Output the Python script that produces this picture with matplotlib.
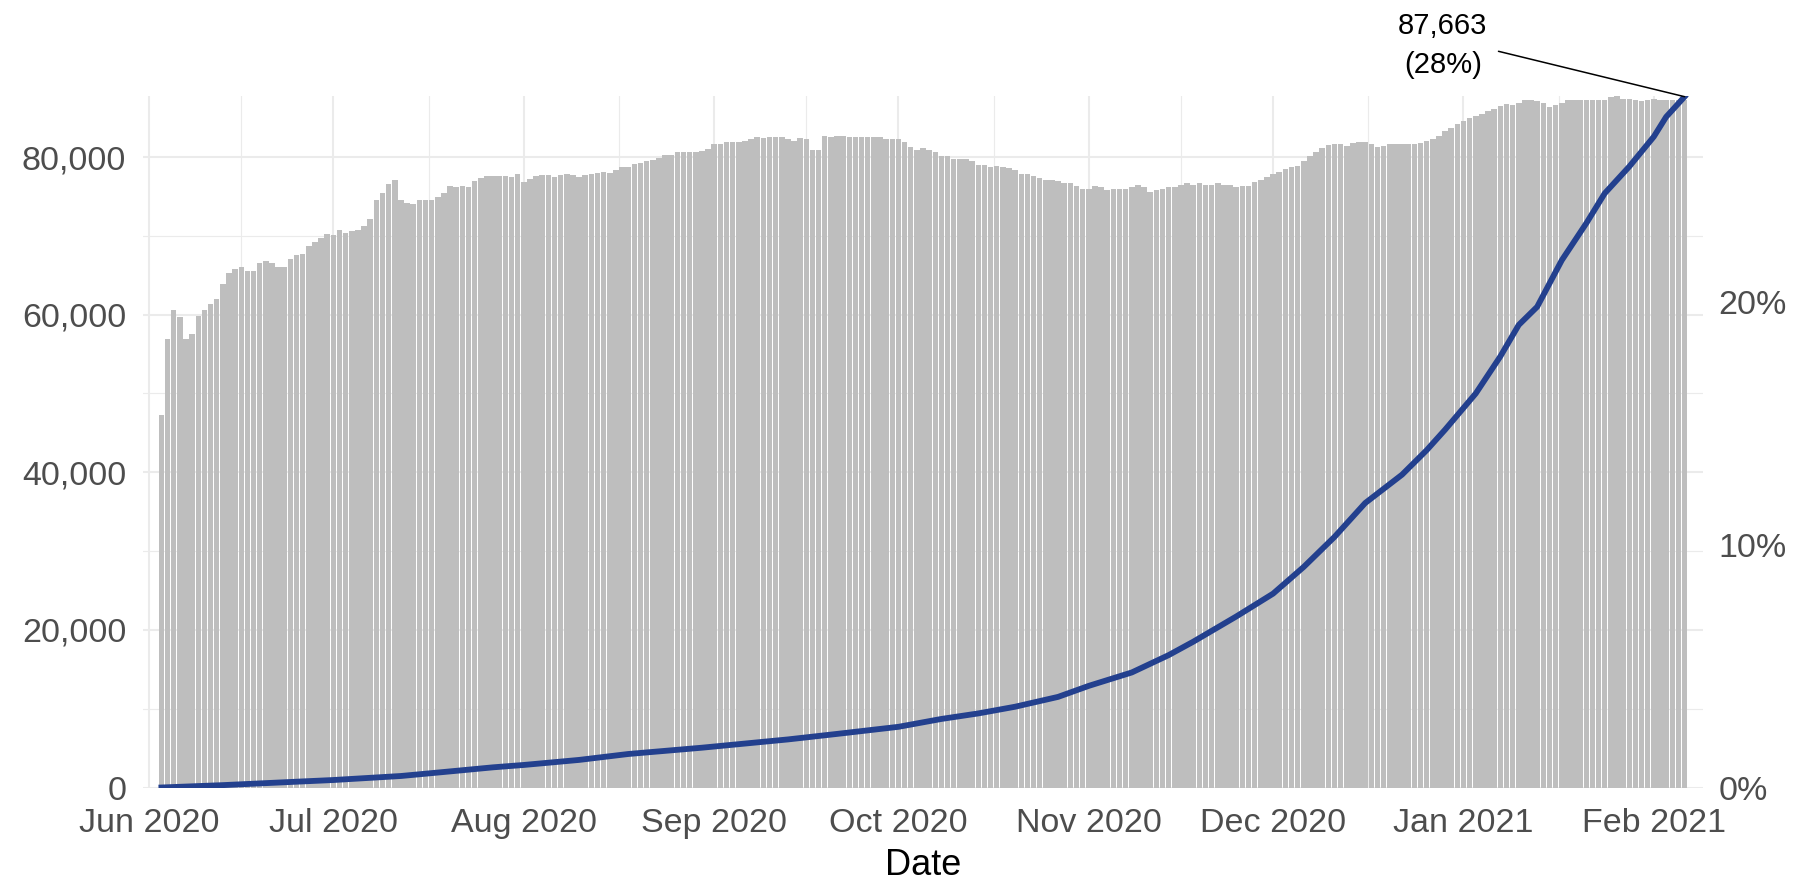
import numpy as np
import pandas as pd
import matplotlib
matplotlib.use('Agg')
import matplotlib.pyplot as plt
import matplotlib.dates as mdates
from matplotlib.ticker import FuncFormatter

plt.rcParams['font.family'] = ['Liberation Sans', 'DejaVu Sans']

# daily bar heights in thousands, one per day from 3 Jun 2020
daily_k = [
    47.3, 56.9, 60.6, 59.7, 56.9, 57.6, 59.8, 60.6, 61.3, 62.0,
    63.9, 65.3, 65.8, 66.0, 65.6, 65.6, 66.6, 66.8, 66.5, 66.1,
    66.1, 67.1, 67.6, 67.7, 68.7, 69.2, 69.7, 70.2, 70.1, 70.7,
    70.4, 70.6, 70.7, 71.3, 72.2, 74.5, 75.5, 76.6, 77.1, 74.5,
    74.2, 74.0, 74.5, 74.5, 74.6, 74.9, 75.5, 76.3, 76.2, 76.3,
    76.2, 77.0, 77.3, 77.6, 77.6, 77.6, 77.6, 77.5, 77.8, 76.8,
    77.2, 77.6, 77.7, 77.7, 77.5, 77.7, 77.8, 77.7, 77.5, 77.7,
    77.8, 78.0, 78.1, 78.0, 78.3, 78.8, 78.8, 79.1, 79.3, 79.5,
    79.6, 79.9, 80.2, 80.3, 80.6, 80.6, 80.6, 80.6, 80.8, 81.0,
    81.6, 81.6, 81.9, 81.9, 81.9, 82.1, 82.3, 82.6, 82.4, 82.6,
    82.6, 82.6, 82.3, 82.1, 82.4, 82.3, 80.9, 80.9, 82.7, 82.6,
    82.7, 82.7, 82.5, 82.5, 82.5, 82.5, 82.5, 82.5, 82.3, 82.3,
    82.3, 81.9, 81.3, 80.9, 81.1, 80.9, 80.6, 80.1, 80.1, 79.8,
    79.8, 79.8, 79.5, 79.0, 79.0, 78.8, 78.9, 78.8, 78.6, 78.4,
    77.8, 77.8, 77.6, 77.3, 77.1, 77.1, 77.0, 76.7, 76.7, 76.3,
    76.0, 76.0, 76.3, 76.2, 75.8, 76.0, 75.9, 76.0, 76.2, 76.5,
    76.2, 75.6, 75.8, 76.0, 76.2, 76.2, 76.5, 76.7, 76.5, 76.7,
    76.5, 76.5, 76.7, 76.4, 76.5, 76.2, 76.3, 76.3, 76.8, 77.1,
    77.5, 77.8, 78.1, 78.5, 78.8, 78.9, 79.5, 80.1, 80.6, 81.1,
    81.5, 81.6, 81.6, 81.4, 81.8, 81.9, 81.9, 81.7, 81.3, 81.4,
    81.6, 81.6, 81.6, 81.6, 81.7, 81.8, 82.0, 82.3, 82.7, 83.3,
    83.7, 84.2, 84.6, 84.9, 85.2, 85.5, 85.8, 86.1, 86.5, 86.7,
    86.6, 86.9, 87.2, 87.2, 87.1, 86.8, 86.4, 86.6, 86.8, 87.2,
    87.2, 87.2, 87.2, 87.2, 87.2, 87.3, 87.6, 87.7, 87.4, 87.4,
    87.3, 87.1, 87.2, 87.4, 87.3, 87.3, 87.3, 87.3, 87.3,
]
bar_dates = pd.date_range('2020-06-03', periods=len(daily_k), freq='D')
bar_values = np.array(daily_k) * 1000

line_dates = pd.to_datetime([
    '2020-06-03', '2020-06-13', '2020-06-24', '2020-07-01', '2020-07-12',
    '2020-07-19', '2020-07-27', '2020-08-01', '2020-08-10', '2020-08-18',
    '2020-08-30', '2020-09-13', '2020-09-21', '2020-10-01', '2020-10-08',
    '2020-10-14', '2020-10-20', '2020-10-27', '2020-11-01', '2020-11-08',
    '2020-11-14', '2020-11-18', '2020-11-25', '2020-12-01', '2020-12-06',
    '2020-12-11', '2020-12-16', '2020-12-22', '2020-12-26', '2020-12-29',
    '2021-01-03', '2021-01-07', '2021-01-10', '2021-01-13', '2021-01-17',
    '2021-01-21', '2021-01-24', '2021-01-28', '2021-02-01', '2021-02-03',
    '2021-02-06',
])
line_values = [
    0, 300, 700, 950, 1460,
    1970, 2560, 2860, 3500, 4250,
    5050, 6100, 6800, 7700, 8700,
    9400, 10250, 11500, 12900, 14600,
    16800, 18500, 21700, 24600, 28000,
    31800, 36100, 39700, 42800, 45400,
    50000, 54700, 58700, 61000, 66900,
    71600, 75400, 78800, 82600, 85100,
    87663,
]

population = 308000
month_starts = pd.date_range('2020-06-01', '2021-02-01', freq='MS')

W, H = 1807, 882
fig = plt.figure(figsize=(W / 100, H / 100), dpi=100)
ax = fig.add_axes([143 / W, 1 - 787.5 / H, (1703 - 143) / W, (787.5 - 96) / H])

ax.bar(bar_dates, bar_values, width=0.9, color='#bebebe', linewidth=0)
ax.plot(line_dates, line_values, color='#23408e', lw=4.2)

x0 = mdates.date2num(pd.Timestamp('2020-06-01'))
ax.set_xlim(x0 - 1, x0 + 253)
ax.set_ylim(0, 87750)

# gridlines like theme_minimal
ax.set_axisbelow(True)
ax.set_yticks([0, 20000, 40000, 60000, 80000])
ax.set_yticks([10000, 30000, 50000, 70000], minor=True)
ax.set_xticks(month_starts)
mids = [a + (b - a) / 2 for a, b in zip(month_starts[:-1], month_starts[1:])]
ax.set_xticks(mids, minor=True)
ax.grid(which='major', color='#ebebeb', lw=1.5)
ax.grid(which='minor', color='#ebebeb', lw=0.8)

ax.xaxis.set_major_formatter(mdates.DateFormatter('%b %Y'))
ax.yaxis.set_major_formatter(FuncFormatter(lambda v, p: f'{v:,.0f}'))
ax.tick_params(which='both', length=0, labelsize=24.5, labelcolor='#4d4d4d')
ax.tick_params(axis='x', pad=15)
ax.tick_params(axis='y', pad=12)
for s in ax.spines.values():
    s.set_visible(False)

sec = ax.secondary_yaxis('right', functions=(lambda v: v / population, lambda p: p * population))
sec.set_yticks([0, 0.1, 0.2])
sec.yaxis.set_major_formatter(FuncFormatter(lambda p, _: f'{p:.0%}'))
sec.tick_params(length=0, pad=11, labelsize=24.5, labelcolor='#4d4d4d')
for s in sec.spines.values():
    s.set_visible(False)

ax.set_xlabel('Date', fontsize=26, color='black', labelpad=6)

end_date = line_dates[-1]
end_value = line_values[-1]
ax.annotate(f'{end_value:,}\n({end_value / population:.0%})',
            xy=(end_date, end_value), xytext=(-174, 37), textcoords='offset points',
            ha='center', va='center', fontsize=21, linespacing=1.5,
            annotation_clip=False,
            arrowprops=dict(arrowstyle='-', color='black', lw=1.1,
                            shrinkA=6, shrinkB=0, relpos=(1, 0.45)))

fig.savefig('out.png', dpi=100)
